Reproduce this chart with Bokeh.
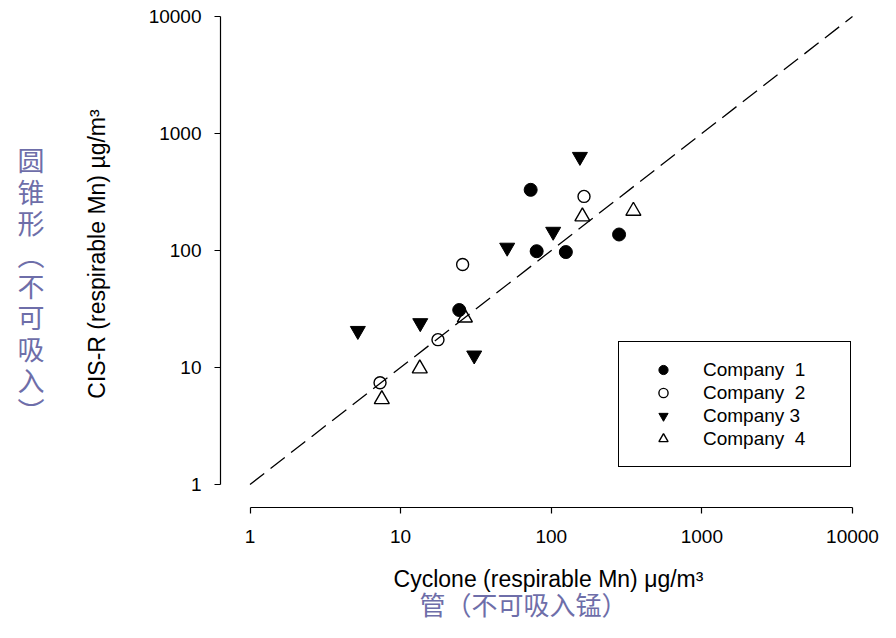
import math
from bokeh.plotting import figure
from bokeh.models import Range1d, FixedTicker, Legend, LegendItem, LinearAxis, Title
from bokeh.embed import file_html
from bokeh.resources import INLINE

# ---------------- data ----------------
company1_x = [24.5, 73, 80, 125, 282]
company1_y = [31, 330, 98.6, 97, 137]
company2_x = [7.3, 17.7, 25.8, 165]
company2_y = [7.4, 17.3, 76, 290]
company3_x = [5.2, 13.5, 30.8, 51, 103, 155]
company3_y = [20.6, 24, 12.7, 106, 145, 633]
company4_x = [7.5, 13.4, 26.7, 161, 351]
company4_y = [5.35, 9.8, 26.7, 195, 218]
ref_line = [1, 10000]
tick_values = [1, 10, 100, 1000, 10000]
tick_labels = ["1", "10", "100", "1000", "10000"]
legend_labels = ["Company  1", "Company  2", "Company 3", "Company  4"]
x_title = "Cyclone (respirable Mn) \u03bcg/m\u00b3"
y_title = "CIS-R (respirable Mn) \u00b5g/m\u00b3"
left_note = ["圆", "锥", "形", "︵", "不", "可", "吸", "入", "︶"]
bottom_note = "管（不可吸入锰）"

# ---------------- layout (pixels) ----------------
W, H = 880, 622
X1_PX, X4_PX = 249.5, 852.0      # where x=1 and x=10000 fall
Y1_PX, Y4_PX = 484.0, 16.0       # where y=1 and y=10000 fall
FL, FR, FT, FB = 220, 876, 0, 507
ppdx = (X4_PX - X1_PX) / 4.0
ppdy = (Y1_PX - Y4_PX) / 4.0


def dx(px):
    return 10 ** ((px - X1_PX) / ppdx)


def dy(py):
    return 10 ** ((Y1_PX - py) / ppdy)


p = figure(width=W, height=H, x_axis_type="log", y_axis_type="log",
           x_range=Range1d(dx(FL), dx(FR)), y_range=Range1d(dy(FB), dy(FT)),
           output_backend="svg", toolbar_location=None,
           min_border_left=FL, min_border_right=W - FR,
           min_border_top=FT, min_border_bottom=H - FB)
p.title.visible = False
p.grid.visible = False
p.outline_line_color = None
p.background_fill_color = "white"
p.border_fill_color = "white"

for ax in (p.xaxis[0], p.yaxis[0]):
    ax.ticker = FixedTicker(ticks=tick_values, minor_ticks=[])
    ax.bounds = (tick_values[0], tick_values[-1])
    ax.major_label_overrides = dict(zip(tick_values, tick_labels))
    ax.major_tick_in = 0
    ax.major_tick_out = 6
    ax.minor_tick_in = 0
    ax.minor_tick_out = 0
    ax.axis_line_color = "black"
    ax.axis_line_width = 1.2
    ax.major_tick_line_color = "black"
    ax.major_tick_line_width = 1.2
    ax.major_label_text_font = "Liberation Sans"
    ax.major_label_text_font_size = "19px"
    ax.major_label_text_color = "black"
    ax.major_label_standoff = 13
    ax.axis_label_text_font = "Liberation Sans"
    ax.axis_label_text_font_size = "23px"
    ax.axis_label_text_font_style = "normal"
    ax.axis_label_text_color = "black"

p.xaxis[0].axis_label = x_title
p.xaxis[0].major_label_standoff = 16
p.xaxis[0].axis_label_standoff = 20
p.yaxis[0].axis_label = y_title
p.yaxis[0].axis_label_standoff = 36

note_color = "#6E6EA9"

# left vertical note (upright characters stacked), two empty lines push it down
left_ax = LinearAxis(ticker=FixedTicker(ticks=[]),
                     axis_line_color=None, major_tick_out=0, major_tick_in=0,
                     minor_tick_out=0, minor_tick_in=0, major_label_standoff=0,
                     axis_label="\n".join(["", ""] + left_note),
                     axis_label_standoff=36,
                     axis_label_orientation="horizontal",
                     axis_label_text_line_height=0.804,
                     axis_label_text_font="Noto Sans CJK SC",
                     axis_label_text_font_size="27px",
                     axis_label_text_font_style="normal",
                     axis_label_text_color=note_color)
p.add_layout(left_ax, "left")

# bottom note
p.add_layout(Title(text=bottom_note, align="left", offset=199, standoff=-24,
                   text_font="Noto Sans CJK SC", text_font_size="26px",
                   text_font_style="normal", text_color=note_color,
                   text_line_height=0.75), "below")

p.line(ref_line, ref_line, line_color="black", line_width=1.3, line_dash="18 8")

r1 = p.scatter(company1_x, company1_y, marker="circle", size=13,
               fill_color="black", line_color="black")
r2 = p.scatter(company2_x, company2_y, marker="circle", size=12,
               fill_color=None, line_color="black", line_width=1.4)
r3 = p.scatter(company3_x, company3_y, marker="inverted_triangle", size=15,
               fill_color="black", line_color="black")
r4 = p.scatter(company4_x, company4_y, marker="triangle", size=15,
               fill_color=None, line_color="black", line_width=1.4)

legend = Legend(items=[LegendItem(label=lbl, renderers=[r])
                       for lbl, r in zip(legend_labels, [r1, r2, r3, r4])],
                location=(618 - FL, FB - 467),
                glyph_width=56, glyph_height=23, label_height=23, spacing=0,
                padding=16, label_standoff=12, label_width=131, margin=0,
                border_line_color="black", border_line_width=1.2, border_line_alpha=1.0,
                background_fill_color="white", background_fill_alpha=1.0,
                label_text_font="Liberation Sans", label_text_font_size="19px",
                label_text_color="black")
p.add_layout(legend)

open("out.html", "w").write(file_html(p, INLINE))
